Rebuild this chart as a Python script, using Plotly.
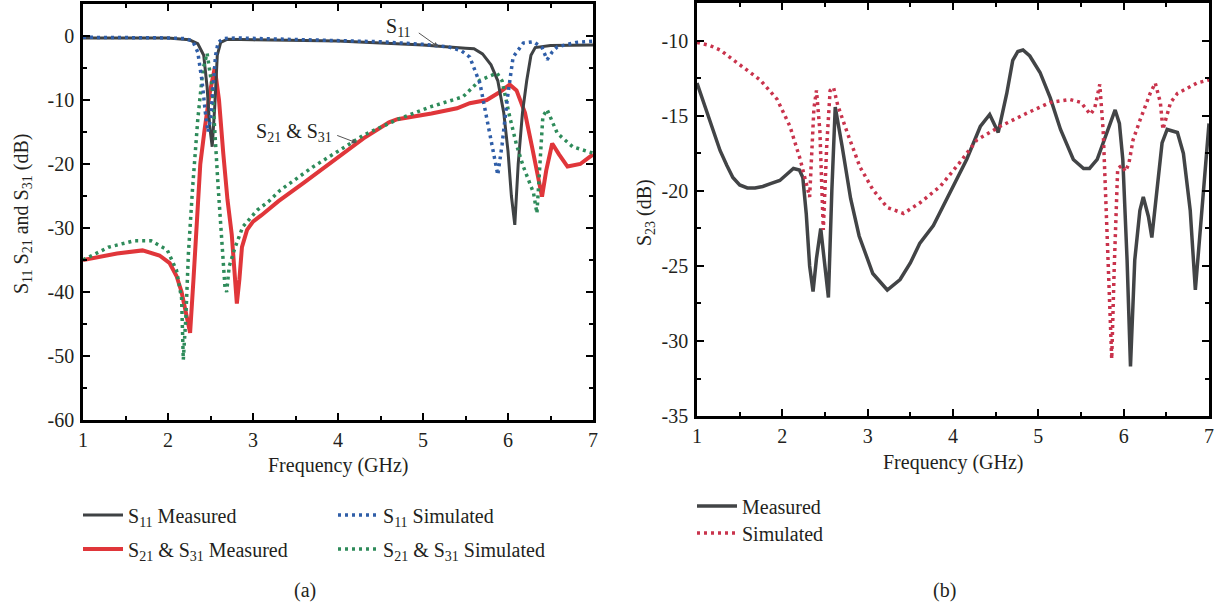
import plotly.graph_objects as go

# ---------------- data: panel (a) ----------------
freq_s11_meas = [1.0, 1.5, 2.0, 2.25, 2.35, 2.42, 2.46, 2.49, 2.52, 2.55, 2.58, 2.62, 2.7, 3.0, 3.5, 4.0,
                 4.5, 5.0, 5.5, 5.6, 5.7, 5.8, 5.88, 5.95, 6.0, 6.04, 6.08, 6.12, 6.17, 6.22, 6.27, 6.32,
                 6.5, 6.8, 7.0]
s11_meas = [-0.3, -0.3, -0.3, -0.6, -1.2, -3.0, -8.0, -14.0, -17.3, -11.0, -3.0, -1.0, -0.5, -0.6, -0.7, -0.8,
            -1.1, -1.4, -1.9, -2.0, -2.8, -4.5, -7.0, -12.0, -18.0, -25.0, -29.5, -20.0, -12.0, -7.0, -3.0, -1.8,
            -1.5, -1.4, -1.4]

freq_s11_sim = [1.0, 1.5, 2.0, 2.2, 2.29, 2.35, 2.40, 2.44, 2.47, 2.50, 2.53, 2.56, 2.59, 2.65, 2.8, 3.5,
                4.5, 5.0, 5.3, 5.45, 5.55, 5.67, 5.75, 5.82, 5.88, 5.93, 5.99, 6.06, 6.18, 6.3, 6.4, 6.46,
                6.52, 6.58, 6.8, 7.0]
s11_sim = [-0.2, -0.2, -0.3, -0.4, -0.8, -2.5, -7.0, -12.0, -15.0, -13.0, -8.0, -3.0, -1.0, -0.4, -0.3, -0.5,
           -0.9, -1.3, -1.7, -2.3, -3.3, -7.4, -12.6, -17.5, -21.7, -17.0, -10.0, -3.3, -1.1, -0.9, -1.8, -3.7,
           -2.5, -1.7, -1.0, -0.8]

freq_s21_meas = [1.0, 1.2, 1.4, 1.7, 1.9, 2.02, 2.1, 2.16, 2.2, 2.24, 2.26, 2.3, 2.34, 2.38, 2.43, 2.49,
                 2.55, 2.6, 2.65, 2.7, 2.75, 2.79, 2.81, 2.84, 2.87, 2.93, 3.0, 3.1, 3.3, 3.6, 4.0, 4.3,
                 4.6, 4.7, 5.1, 5.4, 5.55, 5.75, 5.9, 6.02, 6.1, 6.2, 6.29, 6.35, 6.4, 6.45, 6.52, 6.6,
                 6.7, 6.85, 7.0]
s21_meas = [-35.0, -34.5, -34.0, -33.5, -34.3, -35.5, -37.5, -40.0, -42.5, -45.0, -46.4, -38.0, -28.7, -20.0,
            -14.7, -9.0, -5.0, -10.0, -18.3, -25.6, -31.0, -38.0, -41.8, -38.0, -33.0, -30.3, -29.0, -28.0,
            -25.8, -22.9, -19.0, -16.0, -13.5, -13.0, -12.1, -11.3, -10.5, -10.0, -8.8, -7.6, -8.5, -12.0,
            -17.8, -22.0, -25.1, -21.0, -16.8, -18.5, -20.4, -20.0, -18.5]

freq_s21_sim = [1.0, 1.3, 1.6, 1.8, 1.99, 2.1, 2.16, 2.18, 2.21, 2.24, 2.29, 2.35, 2.41, 2.46, 2.52, 2.55,
                2.59, 2.63, 2.67, 2.69, 2.72, 2.79, 2.88, 3.05, 3.18, 3.32, 3.7, 4.0, 4.3, 4.69, 5.08,
                5.47, 5.67, 5.87, 5.93, 6.02, 6.1, 6.18, 6.3, 6.34, 6.38, 6.41, 6.46, 6.58, 6.76, 7.0]
s21_sim = [-35.0, -33.0, -32.0, -32.0, -33.4, -36.6, -41.0, -50.6, -44.0, -34.0, -23.6, -13.1, -5.3, -2.7,
           -8.0, -15.8, -23.6, -31.4, -39.2, -40.0, -36.0, -33.0, -29.8, -27.2, -25.9, -24.1, -20.5, -18.0,
           -15.5, -13.1, -11.1, -9.5, -6.9, -5.8, -7.0, -12.6, -17.0, -20.4, -24.5, -27.7, -20.0, -12.6,
           -11.5, -15.2, -17.3, -18.3]

# ---------------- data: panel (b) ----------------
freq_s23_meas = [1.0, 1.06, 1.12, 1.2, 1.27, 1.35, 1.42, 1.5, 1.59, 1.68, 1.77, 1.87, 1.97, 2.05, 2.13, 2.2,
                 2.24, 2.28, 2.32, 2.36, 2.4, 2.45, 2.5, 2.54, 2.58, 2.62, 2.7, 2.8, 2.9, 3.06, 3.23, 3.38,
                 3.5, 3.61, 3.77, 3.97, 4.16, 4.32, 4.43, 4.53, 4.63, 4.7, 4.76, 4.82, 4.9, 5.02, 5.14,
                 5.26, 5.41, 5.53, 5.6, 5.69, 5.76, 5.84, 5.9, 5.95, 5.99, 6.04, 6.08, 6.13, 6.19, 6.23,
                 6.29, 6.33, 6.39, 6.45, 6.51, 6.63, 6.7, 6.78, 6.84, 6.92, 7.0]
s23_meas = [-12.8, -13.8, -14.8, -16.1, -17.3, -18.3, -19.1, -19.6, -19.8, -19.8, -19.7, -19.5, -19.3, -18.9,
            -18.5, -18.6, -19.1, -21.5, -25.0, -26.7, -24.5, -22.5, -25.0, -27.1, -20.0, -14.4, -17.0, -20.5,
            -23.0, -25.5, -26.6, -25.9, -24.8, -23.5, -22.3, -20.1, -17.9, -15.7, -14.9, -16.1, -13.5, -11.3,
            -10.7, -10.6, -11.0, -12.1, -13.8, -15.9, -17.9, -18.5, -18.5, -17.9, -16.8, -15.4, -14.6, -15.5,
            -17.9, -24.6, -31.7, -24.6, -21.3, -20.4, -21.7, -23.1, -20.1, -16.8, -15.9, -16.1, -17.5, -21.3,
            -26.6, -21.3, -15.5]

freq_s23_sim = [1.0, 1.15, 1.27, 1.5, 1.74, 1.94, 2.09, 2.21, 2.29, 2.32, 2.37, 2.40, 2.44, 2.48, 2.52, 2.56,
                2.60, 2.65, 2.76, 2.91, 3.06, 3.23, 3.42, 3.61, 3.85, 4.08, 4.28, 4.55, 4.87, 5.14, 5.37,
                5.5, 5.61, 5.66, 5.72, 5.76, 5.8, 5.84, 5.86, 5.89, 5.93, 5.98, 6.02, 6.06, 6.11, 6.19,
                6.31, 6.37, 6.43, 6.46, 6.5, 6.55, 6.63, 6.86, 7.0]
s23_sim = [-10.1, -10.3, -10.6, -11.6, -12.6, -13.9, -15.7, -17.9, -19.7, -20.4, -14.5, -13.3, -16.0, -22.6,
           -17.0, -13.3, -13.1, -14.3, -16.1, -18.4, -19.9, -21.1, -21.5, -20.8, -19.7, -18.1, -16.6, -15.7,
           -14.8, -14.1, -13.9, -14.1, -14.9, -14.5, -12.9, -16.0, -22.0, -29.0, -31.2, -25.0, -18.5, -18.3,
           -18.7, -18.2, -16.6, -15.3, -13.5, -12.8, -14.1, -15.9, -15.0, -14.1, -13.5, -12.8, -12.6]

# ---------------- tick labels ----------------
x_tickvals = [1, 2, 3, 4, 5, 6, 7]
x_ticktext = ["1", "2", "3", "4", "5", "6", "7"]
ya_tickvals = [0, -10, -20, -30, -40, -50, -60]
ya_ticktext = ["0", "-10", "-20", "-30", "-40", "-50", "-60"]
yb_tickvals = [-10, -15, -20, -25, -30, -35]
yb_ticktext = ["-10", "-15", "-20", "-25", "-30", "-35"]

FONT = "Liberation Serif"
TXT = "#231f20"
FS = 20
W, H = 1219, 610


def px(x):
    return x / W


def py(y):
    return 1 - y / H


fig = go.Figure()

# panel (a)
fig.add_trace(go.Scatter(x=freq_s21_meas, y=s21_meas, mode="lines", name="S<sub>21</sub> & S<sub>31</sub> Measured",
                         line=dict(color="#e0363a", width=4), legend="legend2", xaxis="x", yaxis="y"))
fig.add_trace(go.Scatter(x=freq_s11_meas, y=s11_meas, mode="lines", name="S<sub>11</sub> Measured",
                         line=dict(color="#3f4244", width=3), legend="legend", xaxis="x", yaxis="y"))
fig.add_trace(go.Scatter(x=freq_s21_sim, y=s21_sim, mode="lines", name="S<sub>21</sub> & S<sub>31</sub> Simulated",
                         line=dict(color="#2e8b5a", width=3.5, dash="3px,4px"), legend="legend4",
                         xaxis="x", yaxis="y"))
fig.add_trace(go.Scatter(x=freq_s11_sim, y=s11_sim, mode="lines", name="S<sub>11</sub> Simulated",
                         line=dict(color="#2f5ea8", width=3.5, dash="3px,4px"), legend="legend3",
                         xaxis="x", yaxis="y"))

# panel (b)
fig.add_trace(go.Scatter(x=freq_s23_meas, y=s23_meas, mode="lines", name="Measured",
                         line=dict(color="#424446", width=3.5), legend="legend5", xaxis="x2", yaxis="y2"))
fig.add_trace(go.Scatter(x=freq_s23_sim, y=s23_sim, mode="lines", name="Simulated",
                         line=dict(color="#c9334c", width=3.5, dash="3px,4px"), legend="legend6",
                         xaxis="x2", yaxis="y2"))

tickfont = dict(family=FONT, size=FS, color=TXT)


def xaxis_cfg(domain):
    return dict(domain=domain, range=[1, 7], tickmode="array", tickvals=x_tickvals, ticktext=x_ticktext,
                ticks="inside", ticklen=7, tickwidth=2, tickcolor="black", mirror="ticks",
                showline=True, linewidth=2.5, linecolor="black", showgrid=False, zeroline=False,
                tickfont=tickfont, automargin=False, ticklabelstandoff=0,
                minor=dict(ticks="inside", ticklen=4, tickwidth=1.5, tickcolor="black",
                           tickmode="linear", tick0=1, dtick=0.5, showgrid=False))


def yaxis_cfg(domain, rng, tv, tt, minor_dtick, anchor):
    return dict(domain=domain, range=rng, tickmode="array", tickvals=tv, ticktext=tt, anchor=anchor,
                ticks="inside", ticklen=7, tickwidth=2, tickcolor="black", mirror="ticks",
                showline=True, linewidth=2.5, linecolor="black", showgrid=False, zeroline=False,
                tickfont=tickfont, automargin=False, ticklabelstandoff=2,
                minor=dict(ticks="inside", ticklen=4, tickwidth=1.5, tickcolor="black",
                           tickmode="linear", tick0=0, dtick=minor_dtick, showgrid=False))


leg_common = dict(font=dict(family=FONT, size=FS, color=TXT), bgcolor="rgba(0,0,0,0)",
                  borderwidth=0, xanchor="left", yanchor="middle", itemwidth=40)

fig.update_layout(
    width=W, height=H,
    margin=dict(l=0, r=0, t=0, b=0),
    paper_bgcolor="white", plot_bgcolor="white",
    font=dict(family=FONT, size=FS, color=TXT),
    xaxis=xaxis_cfg([px(83), px(593)]) | dict(anchor="y"),
    yaxis=yaxis_cfg([py(420), py(4)], [-60, 5], ya_tickvals, ya_ticktext, 5, "x"),
    xaxis2=xaxis_cfg([px(697), px(1209)]) | dict(anchor="y2"),
    yaxis2=yaxis_cfg([py(416), py(3)], [-35, -7.47], yb_tickvals, yb_ticktext, 2.5, "x2"),
    legend=leg_common | dict(x=px(78), y=py(515)),
    legend2=leg_common | dict(x=px(78), y=py(549)),
    legend3=leg_common | dict(x=px(333), y=py(515)),
    legend4=leg_common | dict(x=px(333), y=py(549)),
    legend5=leg_common | dict(x=px(692), y=py(506)),
    legend6=leg_common | dict(x=px(692), y=py(533)),
    showlegend=True,
)

annot_font = dict(family=FONT, size=FS, color=TXT)


def label(text, x, y, **kw):
    return dict(text=text, x=px(x), y=py(y), xref="paper", yref="paper", showarrow=False,
                font=annot_font, xanchor="center", yanchor="middle", **kw)


annotations = [
    # axis titles
    label("Frequency (GHz)", 338, 465),
    label("Frequency (GHz)", 953, 462),
    label("S<sub>11</sub> S<sub>21</sub> and S<sub>31</sub> (dB)", 22, 214, textangle=-90),
    label("S<sub>23</sub> (dB)", 645, 213, textangle=-90),
    # captions
    label("(a)", 305, 590),
    label("(b)", 944, 590),
    # in-plot labels
    label("S<sub>11</sub>", 398, 27),
    label("S<sub>21</sub> & S<sub>31</sub>", 294, 133),
    # arrows
    dict(text="", x=5.18, y=-1.7, xref="x", yref="y", showarrow=True, ax=-21, ay=-15,
         arrowhead=2, arrowsize=1, arrowwidth=1, arrowcolor="#555"),
    dict(text="", x=4.22, y=-16.7, xref="x", yref="y", showarrow=True, ax=-21, ay=-8,
         arrowhead=2, arrowsize=1, arrowwidth=1, arrowcolor="#555"),
]
fig.update_layout(annotations=annotations)

fig.write_html("out.html", config={"displayModeBar": False},
               post_script="document.body.style.margin='0px';")
